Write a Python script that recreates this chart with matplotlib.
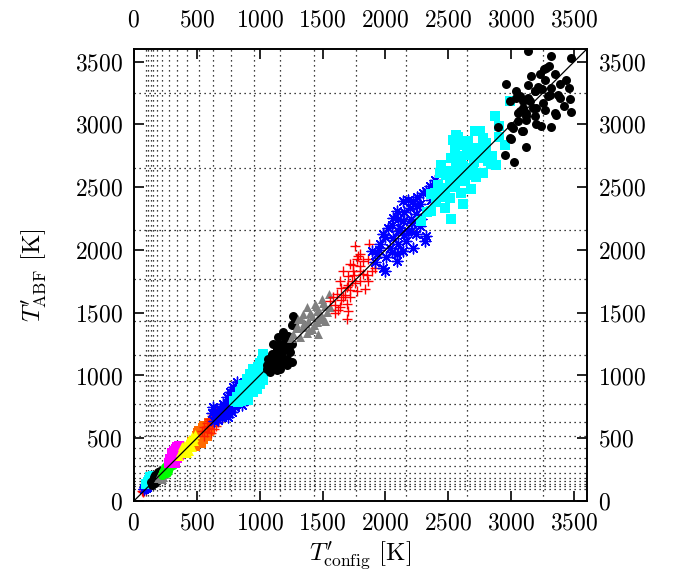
import numpy as np
import matplotlib
matplotlib.use("Agg")
import matplotlib.pyplot as plt

plt.rcParams["font.family"] = "cmr10"
plt.rcParams["mathtext.fontset"] = "cm"
plt.rcParams["axes.formatter.use_mathtext"] = True

# temperature ladder of the replicas (grid lines)
ladder = [98, 116, 135, 156, 183, 225, 280, 342, 420, 515, 632, 776, 952,
          1165, 1432, 1765, 2160, 2650, 3250]

# (T'_config, T'_ABF) samples per replica
r116 = [(100, 115), (85, 105), (95, 90), (75, 95), (80, 78), (65, 80), (70, 70)]
r135 = [(125, 160), (110, 150), (120, 130), (95, 135), (105, 115), (85, 115),
        (95, 100), (80, 95)]
r156 = [(150, 200), (130, 190), (150, 175), (120, 170), (140, 160), (110, 150),
        (130, 140), (100, 135)]
r183 = [(210, 240), (190, 230), (220, 215), (170, 210), (200, 200), (160, 190),
        (185, 180), (150, 170), (175, 160), (140, 150), (165, 140), (200, 175),
        (145, 130)]
r225 = [(260, 280), (240, 265), (270, 250), (220, 245), (250, 235), (210, 220),
        (240, 215), (200, 200), (230, 195), (190, 180), (220, 175)]
r280 = [(300, 340), (320, 320), (280, 320), (300, 300), (260, 290), (290, 280),
        (250, 270), (280, 260), (240, 250), (270, 240), (230, 230), (260, 220),
        (220, 210), (310, 290)]
r342 = [(360, 440), (340, 430), (350, 410), (320, 400), (345, 390), (300, 385),
        (330, 375), (355, 365), (300, 360), (325, 350), (345, 340), (290, 335),
        (315, 325), (300, 310), (280, 300), (325, 300), (365, 395), (335, 415),
        (340, 360), (310, 345)]
r420 = [(490, 530), (460, 520), (470, 500), (440, 490), (480, 480), (420, 470),
        (450, 460), (400, 450), (430, 440), (460, 430), (380, 420), (410, 410),
        (440, 400), (370, 390), (400, 380), (360, 360), (420, 380), (380, 440),
        (430, 470), (450, 440), (400, 420), (480, 510)]
r515 = [(600, 620), (570, 600), (550, 580), (590, 570), (520, 560), (560, 550),
        (510, 540), (540, 530), (580, 520), (500, 515), (525, 500), (550, 490),
        (480, 480), (505, 470), (530, 460), (470, 455), (490, 440), (460, 470),
        (600, 560), (520, 530), (560, 600), (500, 500), (480, 460)]
r632 = [(660, 740), (680, 720), (640, 700), (690, 690), (620, 680), (660, 670),
        (700, 660), (600, 650), (640, 640), (670, 630), (580, 620), (620, 610),
        (650, 600), (560, 590), (600, 580), (640, 570), (540, 560), (580, 550),
        (610, 540), (560, 520), (600, 640), (680, 650), (620, 650), (650, 660),
        (590, 600), (700, 700), (560, 560), (720, 730)]
r776 = [(818, 947), (791, 908), (765, 868), (804, 855), (738, 828), (778, 802),
        (831, 789), (712, 775), (751, 749), (804, 749), (857, 762), (685, 736),
        (725, 709), (778, 709), (659, 696), (698, 669), (751, 669), (672, 643),
        (632, 749), (760, 800), (720, 760), (700, 720), (800, 820), (740, 700),
        (680, 700), (840, 900), (780, 860), (650, 660), (760, 730), (820, 820),
        (860, 880), (620, 700), (640, 640)]
r952 = [(1029, 1172), (1016, 1119), (990, 1066), (1029, 1040), (950, 1053),
        (923, 1013), (976, 1000), (1029, 960), (897, 974), (950, 947),
        (1003, 934), (871, 921), (923, 908), (976, 894), (844, 868), (897, 855),
        (950, 868), (818, 828), (871, 815), (910, 802), (831, 789),
        (1000, 1100), (980, 1030), (940, 980), (900, 950), (960, 920),
        (860, 890), (920, 870), (880, 830), (840, 840), (1000, 990),
        (1040, 1100), (850, 800), (800, 800)]
r1165 = [(1267, 1476), (1281, 1437), (1188, 1344), (1228, 1318), (1148, 1304),
         (1109, 1252), (1201, 1265), (1254, 1252), (1135, 1212), (1188, 1199),
         (1241, 1185), (1095, 1172), (1162, 1159), (1214, 1133), (1069, 1133),
         (1122, 1119), (1175, 1106), (1254, 1106), (1056, 1080), (1109, 1066),
         (1162, 1053), (1214, 1080), (1082, 1027), (1135, 1040), (1241, 1252),
         (1150, 1250), (1200, 1200), (1100, 1150), (1180, 1150), (1130, 1100),
         (1080, 1100), (1230, 1200), (1150, 1080), (1200, 1300), (1120, 1180),
         (1060, 1050), (1260, 1400), (1170, 1220)]
r1432 = [(1553, 1648), (1492, 1609), (1439, 1569), (1519, 1556), (1373, 1543),
         (1453, 1516), (1532, 1503), (1347, 1490), (1413, 1476), (1492, 1463),
         (1307, 1450), (1386, 1437), (1453, 1424), (1294, 1397), (1347, 1384),
         (1413, 1371), (1466, 1331), (1267, 1331), (1320, 1304), (1373, 1336),
         (1558, 1543), (1519, 1437), (1400, 1500), (1450, 1550), (1350, 1420),
         (1480, 1500), (1300, 1380), (1430, 1400), (1500, 1580), (1250, 1300),
         (1390, 1360), (1470, 1450), (1330, 1450)]
r1765 = [(1757, 2032), (1871, 2045), (1797, 1966), (1823, 1913), (1770, 1926),
         (1717, 1887), (1863, 1926), (1797, 1834), (1744, 1834), (1664, 1834),
         (1704, 1794), (1823, 1807), (1889, 1834), (1638, 1754), (1730, 1754),
         (1797, 1754), (1863, 1754), (1691, 1701), (1770, 1675), (1836, 1688),
         (1611, 1648), (1664, 1622), (1717, 1622), (1585, 1622), (1638, 1543),
         (1691, 1569), (1704, 1516), (1598, 1495), (1691, 1450), (1916, 1860),
         (1558, 1596), (1750, 1800), (1700, 1720), (1800, 1870), (1650, 1700),
         (1760, 1740), (1600, 1560), (1650, 1600), (1720, 1680), (1780, 1950),
         (1850, 1800), (1620, 1520), (1680, 1640), (1740, 1880)]
r2160 = [(2392, 2561), (2352, 2508), (2326, 2469), (2141, 2389), (2220, 2389),
         (2273, 2363), (2088, 2310), (2194, 2336), (2246, 2284), (2061, 2257),
         (2141, 2231), (2207, 2217), (2273, 2191), (2022, 2178), (2114, 2178),
         (2180, 2151), (2246, 2125), (2326, 2112), (1982, 2125), (2061, 2098),
         (2167, 2072), (2220, 2019), (2313, 2072), (1955, 2045), (2035, 2019),
         (2088, 1966), (2008, 1940), (1929, 1966), (1889, 1992), (1982, 1860),
         (1995, 1834), (2088, 1913), (2141, 1992), (2100, 2250), (2150, 2300),
         (2200, 2250), (2250, 2350), (2050, 2200), (2100, 2150), (2200, 2150),
         (2000, 2100), (2100, 2050), (2150, 2120), (1950, 2000), (2050, 1980),
         (1920, 1900), (2280, 2250), (2360, 2400), (2300, 2450), (2400, 2520),
         (2180, 2400), (2250, 2420)]
r2650 = [(2987, 3188), (2868, 3064), (2903, 2985), (2948, 2834), (2876, 2680),
         (2538, 2879), (2564, 2919), (2710, 2945), (2749, 2950), (2617, 2839),
         (2657, 2866), (2776, 2892), (2723, 2813), (2802, 2786), (2445, 2680),
         (2524, 2733), (2590, 2747), (2670, 2760), (2736, 2733), (2815, 2707),
         (2776, 2614), (2432, 2614), (2511, 2627), (2617, 2667), (2696, 2654),
         (2511, 2548), (2577, 2575), (2630, 2548), (2683, 2482), (2471, 2495),
         (2392, 2455), (2365, 2442), (2511, 2416), (2617, 2363), (2471, 2336),
         (2524, 2244), (2365, 2310), (2286, 2231), (2842, 2685), (2670, 2614),
         (2550, 2800), (2600, 2700), (2650, 2800), (2700, 2700), (2750, 2800),
         (2480, 2600), (2560, 2650), (2640, 2600), (2720, 2580), (2420, 2520),
         (2550, 2500), (2460, 2420), (2600, 2450), (2400, 2380), (2330, 2300),
         (2800, 2850), (2850, 2750), (2900, 2900), (2580, 2900)]
r3250 = [(3135, 3585), (3318, 3543), (3477, 3532), (3278, 3453), (3159, 3384),
         (3265, 3355), (2956, 3323), (3437, 3355), (3133, 3315), (3212, 3302),
         (3040, 3263), (3186, 3263), (3318, 3289), (3458, 3289), (3371, 3236),
         (3292, 3223), (3067, 3223), (2987, 3183), (3133, 3210), (3464, 3204),
         (3384, 3210), (3252, 3170), (3093, 3130), (3173, 3130), (3265, 3117),
         (3345, 3091), (3054, 3091), (3477, 3098), (3120, 3064), (3186, 3064),
         (3054, 3024), (3001, 2985), (3239, 2985), (3318, 2977), (3093, 2950),
         (2895, 2979), (2987, 2892), (2948, 2760), (3019, 2699), (3114, 2818),
         (3257, 3439), (3299, 3466), (3384, 3320), (3246, 3280), (3304, 3236),
         (3199, 3130), (3357, 3077), (3066, 3103), (3119, 3090), (3119, 3037),
         (3013, 2971), (3087, 2950), (3185, 3268), (3092, 3183), (3146, 3183),
         (3034, 3214), (3000, 2886), (3230, 3400), (3350, 3400), (3420, 3150),
         (3200, 3000)]

ticks = [0, 500, 1000, 1500, 2000, 2500, 3000, 3500]

asterisk = (8, 2, 0)
# drawing order: yellow replica last among the cold ones so it stays visible
styles = [
    (r116, "#ff0000", "+"),
    (r135, "#0000ff", asterisk),
    (r156, "#00ffff", "s"),
    (r183, "#000000", "o"),
    (r225, "#808080", "^"),
    (r280, "#00ff00", "o"),
    (r515, "#ff6a00", "s"),
    (r342, "#ff00ff", "s"),
    (r420, "#ffff00", "^"),
    (r632, "#ff2000", "+"),
    (r776, "#0000ff", asterisk),
    (r952, "#00ffff", "s"),
    (r1165, "#000000", "o"),
    (r1432, "#808080", "^"),
    (r1765, "#ff0000", "+"),
    (r2160, "#0000ff", asterisk),
    (r2650, "#00ffff", "s"),
    (r3250, "#000000", "o"),
]

fig = plt.figure(figsize=(6.76, 5.71), dpi=100)
ax = fig.add_axes([0.198, 0.1226, 0.670, 0.7914])

for pts, col, mk in styles:
    p = np.array(pts, dtype=float)
    if mk == "+" or mk == asterisk:
        ax.scatter(p[:, 0], p[:, 1], s=60, marker=mk, color=col, linewidths=1.0, zorder=3)
    elif mk == "s":
        ax.scatter(p[:, 0], p[:, 1], s=50, marker=mk, color=col, linewidths=0, zorder=3)
    else:
        ax.scatter(p[:, 0], p[:, 1], s=42, marker=mk, color=col, linewidths=0, zorder=3)

ax.plot([0, 3600], [0, 3600], color="black", lw=0.9, zorder=4)

ax.set_xlim(0, 3600)
ax.set_ylim(0, 3600)
ax.set_xticks(ticks)
ax.set_yticks(ticks)
ax.set_xticks(ladder, minor=True)
ax.set_yticks(ladder, minor=True)
ax.grid(which="minor", color="black", linestyle=(0, (1, 3)), lw=0.9)
ax.grid(which="major", visible=False)
ax.tick_params(which="minor", length=0)
ax.tick_params(which="major", direction="in", length=7, width=1.2,
               top=True, right=True, labelright=True, labelsize=17, pad=8)
for s in ax.spines.values():
    s.set_linewidth(1.4)

# top axis labels sit further away from the frame
top = ax.secondary_xaxis("top")
top.set_xticks(ticks)
top.tick_params(direction="in", length=0, labelsize=17, pad=13)
top.spines["top"].set_visible(False)

ax.set_xlabel(r"$T^{\prime}_{\mathrm{config}}$ [K]", fontsize=18, labelpad=4)
ax.set_ylabel(r"$T^{\prime}_{\mathrm{ABF}}$ [K]", fontsize=18, labelpad=18)

fig.savefig("out.png", dpi=100)
